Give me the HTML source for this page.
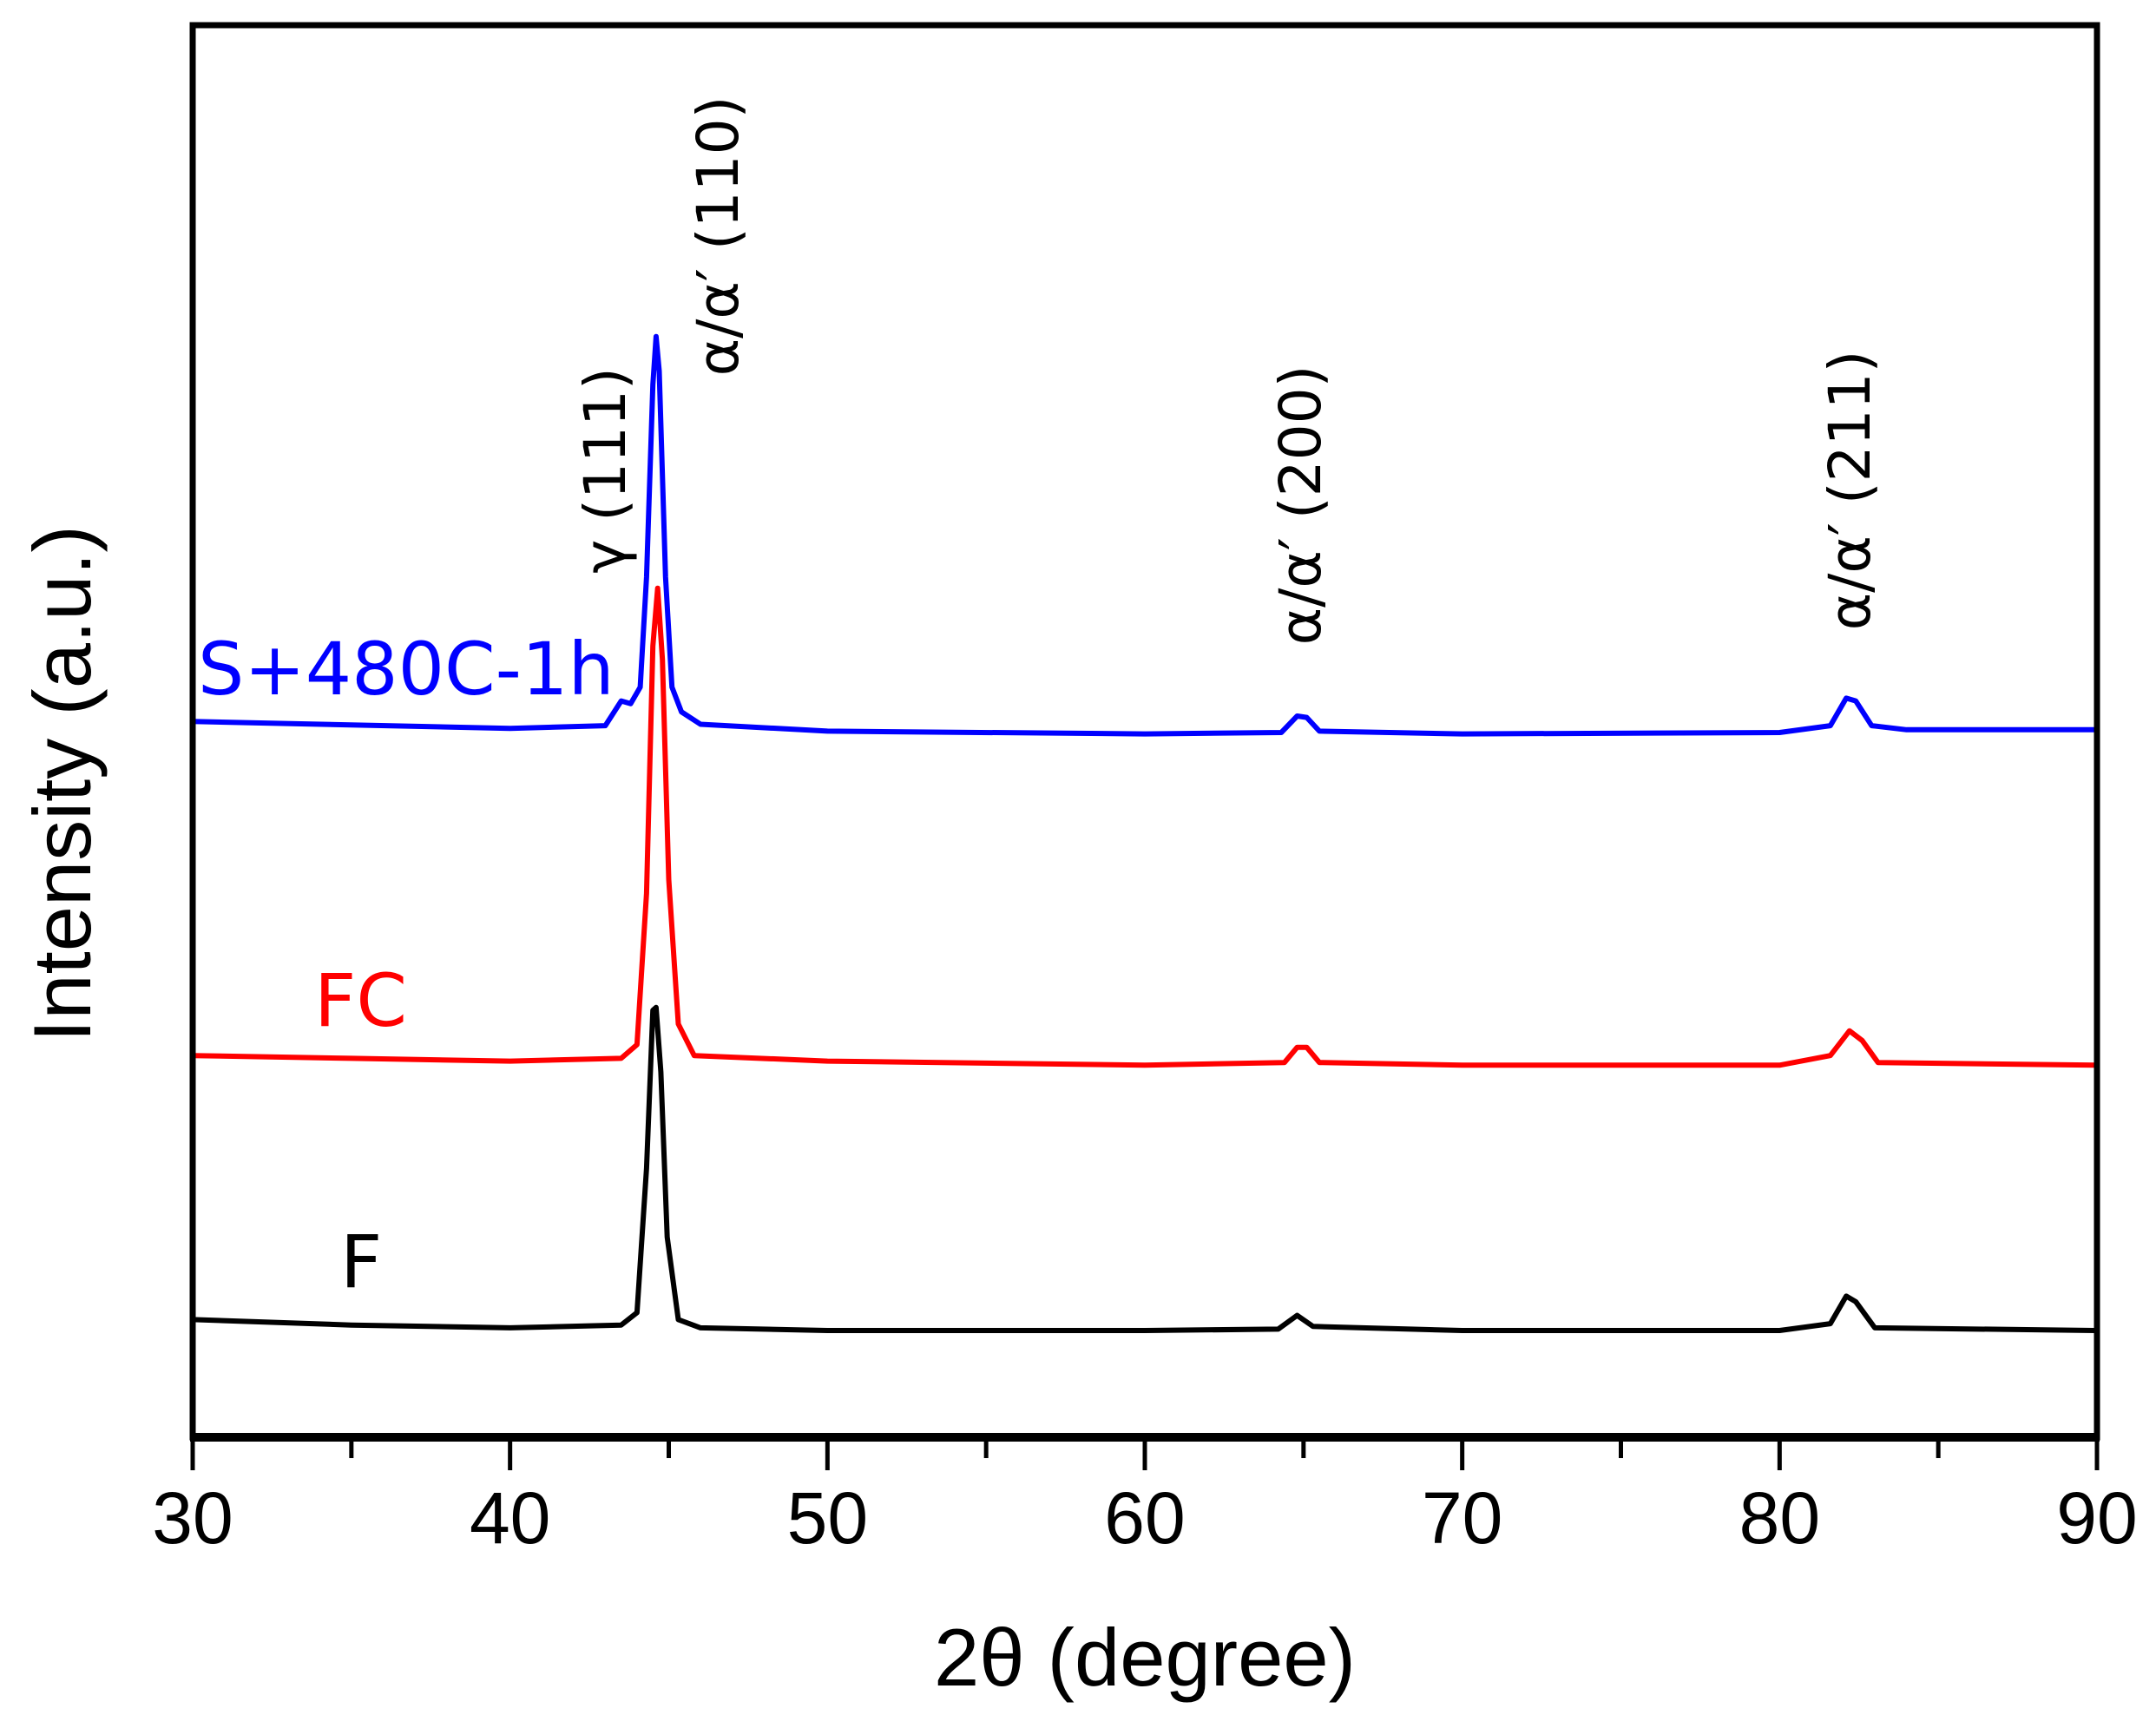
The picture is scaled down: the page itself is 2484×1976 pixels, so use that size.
<!DOCTYPE html>
<html><head><meta charset="utf-8"><style>html,body{margin:0;padding:0;background:#fff}svg{display:block}</style></head>
<body>
<svg id="chart" width="2484" height="1976" viewBox="0 0 2484 1976" xmlns="http://www.w3.org/2000/svg">
<g id="series"></g>
<rect x="222" y="29" width="2194" height="1627" fill="none" stroke="#000" stroke-width="7"/>
<line x1="219" y1="1656" x2="2419" y2="1656" stroke="#000" stroke-width="10"/>
<g id="xticks"></g>
<text x="1319" y="1942" font-family="Liberation Sans, sans-serif" font-size="94" text-anchor="middle">2θ (degree)</text>
<text transform="translate(104,903) rotate(-90)" font-family="Liberation Sans, sans-serif" font-size="94" text-anchor="middle">Intensity (a.u.)</text>
<g font-family="DejaVu Sans, sans-serif" font-size="66" fill="#000">
<text transform="translate(850,272) rotate(-90)" text-anchor="middle">α/α′  (110)</text>
<text transform="translate(720,542) rotate(-90)" text-anchor="middle">γ (111)</text>
<text transform="translate(1521,582) rotate(-90)" text-anchor="middle">α/α′  (200)</text>
<text transform="translate(2154,565) rotate(-90)" text-anchor="middle">α/α′  (211)</text>
</g>
<g font-family="DejaVu Sans, sans-serif" font-size="84">
<text x="228" y="800" fill="#0000ff">S+480C-1h</text>
<text x="362" y="1182" fill="#ff0000">FC</text>
<text x="392" y="1483" fill="#000">F</text>
</g>
</svg>
<script>
const xTicks = [30, 40, 50, 60, 70, 80, 90];
const minorTicks = [35, 45, 55, 65, 75, 85];
const blueX = [30,40,43,43.5,43.8,44.1,44.3,44.5,44.6,44.7,44.9,45.1,45.4,46,50,60,64.3,64.8,65.1,65.5,70,80,81.6,82.1,82.4,82.9,84,90];
const blueY = [520,515,517,535,533,545,625,765,800,775,625,545,527,518,513,511,512,524,523,513,511,512,517,537,535,517,514,514];
const redX = [30,35,40,43.5,44.0,44.3,44.5,44.65,44.8,45.0,45.3,45.8,50,60,64.4,64.8,65.1,65.5,70,80,81.6,82.2,82.6,83.1,90];
const redY = [277,275,273,275,285,395,575,617,565,405,300,277,273,270,272,283,283,272,270,270,277,295,288,272,270];
const blackX = [30,35,40,43.5,44.0,44.3,44.5,44.6,44.75,44.95,45.3,46,50,60,64.2,64.8,65.3,70,80,81.6,82.1,82.4,83,90];
const blackY = [85,81,79,81,90,195,310,312,265,145,85,79,77,77,78,88,80,77,77,82,102,98,79,77];

const NS = 'http://www.w3.org/2000/svg';
const X0 = 222, X1 = 2416, Y0 = 1655, K = 1.584;
function xs(v){ return X0 + (v - 30) / 60 * (X1 - X0); }
function ys(v){ return Y0 - v * K; }

const tg = document.getElementById('xticks');
xTicks.forEach(t => {
  const l = document.createElementNS(NS, 'line');
  l.setAttribute('x1', xs(t)); l.setAttribute('x2', xs(t));
  l.setAttribute('y1', 1656); l.setAttribute('y2', 1694);
  l.setAttribute('stroke', '#000'); l.setAttribute('stroke-width', 5);
  
  
  tg.appendChild(l);
  const tx = document.createElementNS(NS, 'text');
  tx.setAttribute('x', xs(t)); tx.setAttribute('y', 1778);
  tx.setAttribute('text-anchor', 'middle');
  tx.setAttribute('font-family', 'Liberation Sans, sans-serif');
  tx.setAttribute('font-size', '84');
  tx.textContent = t;
  
  
  tg.appendChild(tx);
});
minorTicks.forEach(t => {
  const l = document.createElementNS(NS, 'line');
  l.setAttribute('x1', xs(t)); l.setAttribute('x2', xs(t));
  l.setAttribute('y1', 1656); l.setAttribute('y2', 1680);
  l.setAttribute('stroke', '#000'); l.setAttribute('stroke-width', 5);
  
  
  tg.appendChild(l);
});

const sg = document.getElementById('series');
function drawSeries(xa, ya, color, name){
  const p = document.createElementNS(NS, 'path');
  let d = '';
  xa.forEach((x, i) => { d += (i ? 'L' : 'M') + xs(x).toFixed(1) + ' ' + ys(ya[i]).toFixed(1); });
  p.setAttribute('d', d);
  p.setAttribute('fill', 'none');
  p.setAttribute('stroke', color);
  p.setAttribute('stroke-width', 6);
  p.setAttribute('stroke-linejoin', 'round');
  
  
  sg.appendChild(p);
}
drawSeries(blackX, blackY, '#000000', 'series-f');
drawSeries(redX, redY, '#ff0000', 'series-fc');
drawSeries(blueX, blueY, '#0000ff', 'series-s480c-1h');
</script>
</body></html>
